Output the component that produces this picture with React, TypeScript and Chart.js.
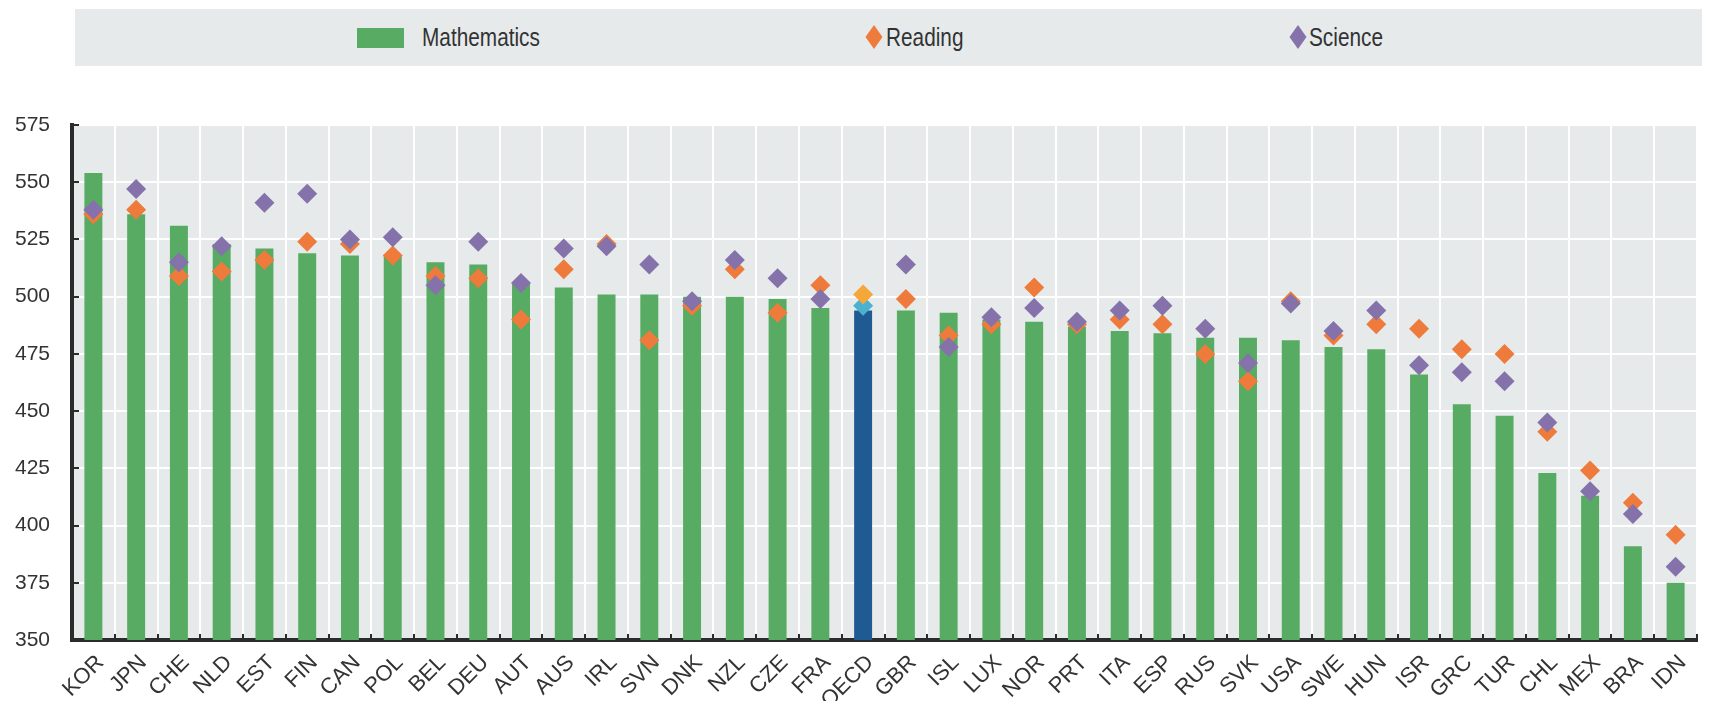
import React, { useEffect, useRef } from "react";
import { Chart, registerables } from "chart.js";

Chart.register(...registerables);

const categories = ["KOR","JPN","CHE","NLD","EST","FIN","CAN","POL","BEL","DEU","AUT","AUS","IRL","SVN","DNK","NZL","CZE","FRA","OECD","GBR","ISL","LUX","NOR","PRT","ITA","ESP","RUS","SVK","USA","SWE","HUN","ISR","GRC","TUR","CHL","MEX","BRA","IDN"];
const mathematics = [554,536,531,523,521,519,518,518,515,514,506,504,501,501,500,500,499,495,494,494,493,490,489,487,485,484,482,482,481,478,477,466,453,448,423,413,391,375];
const reading = [536,538,509,511,516,524,523,518,509,508,490,512,523,481,496,512,493,505,496,499,483,488,504,488,490,488,475,463,498,483,488,486,477,475,441,424,410,396];
const science = [538,547,515,522,541,545,525,526,505,524,506,521,522,514,498,516,508,499,501,514,478,491,495,489,494,496,486,471,497,485,494,470,467,463,445,415,405,382];
const yTickValues = [350,375,400,425,450,475,500,525,550,575];
const highlight = "OECD";

const GREEN = "#57ab62";
const BLUE = "#1f5b92";
const ORANGE = "#ee7b3b";
const PURPLE = "#8572aa";
const OECD_READING = "#4bb1d1";
const OECD_SCIENCE = "#f6a73a";
const PLOT_BG = "#e6eaeb";
const AXIS = "#2b2b2b";
const TEXT = "#333333";
const FONT = "'Liberation Sans Narrow', 'Arial Narrow', 'Liberation Sans', Arial, sans-serif";

const plotBg = {
  id: "plotBg",
  beforeDraw(chart: any) {
    const { ctx, chartArea } = chart;
    ctx.save();
    ctx.fillStyle = PLOT_BG;
    ctx.fillRect(chartArea.left, chartArea.top, chartArea.right - chartArea.left, chartArea.bottom - chartArea.top);
    ctx.restore();
  },
};

const inwardTicks = {
  id: "inwardTicks",
  afterDraw(chart: any) {
    const { ctx, chartArea } = chart;
    const x = chart.scales.x;
    const y = chart.scales.y;
    ctx.save();
    ctx.strokeStyle = AXIS;
    ctx.lineWidth = 2;
    ctx.beginPath();
    for (let i = 1; i <= categories.length; i++) {
      const px = Math.round(x.getPixelForValue(i - 0.5));
      ctx.moveTo(px, chartArea.bottom);
      ctx.lineTo(px, chartArea.bottom - 6);
    }
    for (const v of yTickValues) {
      const py = Math.round(y.getPixelForValue(v));
      ctx.moveTo(chartArea.left, py);
      ctx.lineTo(chartArea.left + 7, py);
    }
    ctx.stroke();
    ctx.restore();
  },
};

export default function App() {
  const ref = useRef<HTMLCanvasElement | null>(null);

  useEffect(() => {
    if (!ref.current) return;
    const chart = new Chart(ref.current, {
      type: "bar",
      data: {
        labels: categories,
        datasets: [
          {
            type: "bar",
            label: "Mathematics",
            data: mathematics,
            backgroundColor: categories.map((c) => (c === highlight ? BLUE : GREEN)),
            barPercentage: 0.42,
            categoryPercentage: 1,
            order: 3,
          } as any,
          {
            type: "line",
            label: "Reading",
            data: reading,
            showLine: false,
            pointStyle: "rectRot",
            pointRadius: 10,
            pointBorderWidth: 0,
            pointBackgroundColor: categories.map((c) => (c === highlight ? OECD_READING : ORANGE)),
            pointBorderColor: categories.map((c) => (c === highlight ? OECD_READING : ORANGE)),
            order: 2,
          } as any,
          {
            type: "line",
            label: "Science",
            data: science,
            showLine: false,
            pointStyle: "rectRot",
            pointRadius: 10,
            pointBorderWidth: 0,
            pointBackgroundColor: categories.map((c) => (c === highlight ? OECD_SCIENCE : PURPLE)),
            pointBorderColor: categories.map((c) => (c === highlight ? OECD_SCIENCE : PURPLE)),
            order: 1,
          } as any,
        ],
      },
      options: {
        animation: false,
        responsive: false,
        devicePixelRatio: 1,
        layout: { padding: { top: 125, right: 23, left: 0, bottom: 0 } },
        plugins: { legend: { display: false }, tooltip: { enabled: false } },
        scales: {
          x: {
            offset: true,
            grid: { offset: true, color: "#ffffff", lineWidth: 2, drawTicks: false },
            border: { color: AXIS, width: 4 },
            ticks: {
              minRotation: 45,
              maxRotation: 45,
              autoSkip: false,
              padding: 10,
              labelOffset: 7,
              color: TEXT,
              font: { family: FONT, size: 22 },
            },
            afterFit: (s: any) => {
              s.height = 61;
            },
          },
          y: {
            min: yTickValues[0],
            max: yTickValues[yTickValues.length - 1],
            afterBuildTicks: (s: any) => {
              s.ticks = yTickValues.map((v) => ({ value: v }));
            },
            grid: { color: "#ffffff", lineWidth: 2, drawTicks: false },
            border: { color: AXIS, width: 4 },
            ticks: {
              padding: 22,
              color: TEXT,
              font: { family: FONT, size: 21 },
            },
            afterFit: (s: any) => {
              s.width = 72;
            },
          },
        },
      },
      plugins: [plotBg, inwardTicks],
    });
    return () => chart.destroy();
  }, []);

  const legendText: React.CSSProperties = {
    position: "absolute",
    top: 19,
    fontFamily: FONT,
    fontSize: 26,
    lineHeight: "36px",
    color: TEXT,
    whiteSpace: "nowrap",
    transform: "scaleX(0.8)",
    transformOrigin: "0 50%",
  };
  const diamond = (color: string, cx: number): React.CSSProperties => ({
    position: "absolute",
    left: cx - 6,
    top: 31,
    width: 12,
    height: 12,
    background: color,
    transform: "scaleY(1.4) rotate(45deg)",
  });

  return (
    <div style={{ position: "fixed", left: 0, top: 0, width: 1720, height: 701, background: "#ffffff", overflow: "hidden" }}>
      <canvas ref={ref} width={1720} height={701} style={{ position: "absolute", left: 0, top: 0, width: 1720, height: 701 }} />
      <div style={{ position: "absolute", left: 75, top: 9, width: 1627, height: 57, background: PLOT_BG }} />
      <div style={{ position: "absolute", left: 357, top: 28, width: 47, height: 20, background: GREEN }} />
      <div style={{ ...legendText, left: 422 }}>Mathematics</div>
      <div style={diamond(ORANGE, 874)} />
      <div style={{ ...legendText, left: 886 }}>Reading</div>
      <div style={diamond(PURPLE, 1298)} />
      <div style={{ ...legendText, left: 1309 }}>Science</div>
    </div>
  );
}
